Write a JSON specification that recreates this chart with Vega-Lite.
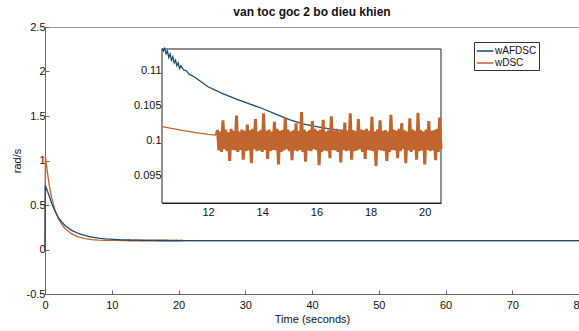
{
  "$schema": "https://vega.github.io/schema/vega-lite/v6.json",
  "autosize": {"type": "none"},
  "padding": {"left": 45, "top": 27, "right": 0, "bottom": 37},
  "width": 534,
  "height": 267,
  "background": "white",
  "config": {"font": "Liberation Sans", "view": {"stroke": "#999", "strokeWidth": 1}},
  "title": {"text": "van toc goc 2 bo dieu khien", "fontSize": 12, "fontWeight": "bold", "offset": 2, "anchor": "middle", "color": "#111"},
  "datasets": {
    "w": [
      {"t": 0, "w": 0, "s": "wDSC"},
      {"t": 0.05, "w": 1.05, "s": "wDSC"},
      {"t": 0.3, "w": 0.9, "s": "wDSC"},
      {"t": 0.6, "w": 0.74, "s": "wDSC"},
      {"t": 1, "w": 0.58, "s": "wDSC"},
      {"t": 1.5, "w": 0.44, "s": "wDSC"},
      {"t": 2, "w": 0.35, "s": "wDSC"},
      {"t": 2.5, "w": 0.285, "s": "wDSC"},
      {"t": 3, "w": 0.235, "s": "wDSC"},
      {"t": 4, "w": 0.175, "s": "wDSC"},
      {"t": 5, "w": 0.142, "s": "wDSC"},
      {"t": 6, "w": 0.123, "s": "wDSC"},
      {"t": 7, "w": 0.112, "s": "wDSC"},
      {"t": 8, "w": 0.106, "s": "wDSC"},
      {"t": 9, "w": 0.1035, "s": "wDSC"},
      {"t": 10, "w": 0.1022, "s": "wDSC"},
      {"t": 10.3, "w": 0.1019, "s": "wDSC"},
      {"t": 11, "w": 0.1014, "s": "wDSC"},
      {"t": 11.5, "w": 0.1011, "s": "wDSC"},
      {"t": 12, "w": 0.1008, "s": "wDSC"},
      {"t": 12.3, "w": 0.1007, "s": "wDSC"},
      {"t": 12.35, "w": 0.1014, "s": "wDSC"},
      {"t": 12.40, "w": 0.0985, "s": "wDSC"},
      {"t": 12.45, "w": 0.1012, "s": "wDSC"},
      {"t": 12.50, "w": 0.0983, "s": "wDSC"},
      {"t": 12.55, "w": 0.1028, "s": "wDSC"},
      {"t": 12.60, "w": 0.0987, "s": "wDSC"},
      {"t": 12.65, "w": 0.1015, "s": "wDSC"},
      {"t": 12.70, "w": 0.0984, "s": "wDSC"},
      {"t": 12.75, "w": 0.1011, "s": "wDSC"},
      {"t": 12.80, "w": 0.0970, "s": "wDSC"},
      {"t": 12.85, "w": 0.1016, "s": "wDSC"},
      {"t": 12.90, "w": 0.0986, "s": "wDSC"},
      {"t": 12.95, "w": 0.1013, "s": "wDSC"},
      {"t": 13.00, "w": 0.0985, "s": "wDSC"},
      {"t": 13.05, "w": 0.1035, "s": "wDSC"},
      {"t": 13.10, "w": 0.0983, "s": "wDSC"},
      {"t": 13.15, "w": 0.1012, "s": "wDSC"},
      {"t": 13.20, "w": 0.0986, "s": "wDSC"},
      {"t": 13.25, "w": 0.1015, "s": "wDSC"},
      {"t": 13.30, "w": 0.0972, "s": "wDSC"},
      {"t": 13.35, "w": 0.1013, "s": "wDSC"},
      {"t": 13.40, "w": 0.0984, "s": "wDSC"},
      {"t": 13.45, "w": 0.1022, "s": "wDSC"},
      {"t": 13.50, "w": 0.0985, "s": "wDSC"},
      {"t": 13.55, "w": 0.1014, "s": "wDSC"},
      {"t": 13.60, "w": 0.0967, "s": "wDSC"},
      {"t": 13.65, "w": 0.1016, "s": "wDSC"},
      {"t": 13.70, "w": 0.0987, "s": "wDSC"},
      {"t": 13.75, "w": 0.1030, "s": "wDSC"},
      {"t": 13.80, "w": 0.0984, "s": "wDSC"},
      {"t": 13.85, "w": 0.1012, "s": "wDSC"},
      {"t": 13.90, "w": 0.0985, "s": "wDSC"},
      {"t": 13.95, "w": 0.1014, "s": "wDSC"},
      {"t": 14.00, "w": 0.0983, "s": "wDSC"},
      {"t": 14.05, "w": 0.1038, "s": "wDSC"},
      {"t": 14.10, "w": 0.0986, "s": "wDSC"},
      {"t": 14.15, "w": 0.1013, "s": "wDSC"},
      {"t": 14.20, "w": 0.0973, "s": "wDSC"},
      {"t": 14.25, "w": 0.1015, "s": "wDSC"},
      {"t": 14.30, "w": 0.0984, "s": "wDSC"},
      {"t": 14.35, "w": 0.1012, "s": "wDSC"},
      {"t": 14.40, "w": 0.0986, "s": "wDSC"},
      {"t": 14.45, "w": 0.1026, "s": "wDSC"},
      {"t": 14.50, "w": 0.0985, "s": "wDSC"},
      {"t": 14.55, "w": 0.1016, "s": "wDSC"},
      {"t": 14.60, "w": 0.0965, "s": "wDSC"},
      {"t": 14.65, "w": 0.1013, "s": "wDSC"},
      {"t": 14.70, "w": 0.0983, "s": "wDSC"},
      {"t": 14.75, "w": 0.1014, "s": "wDSC"},
      {"t": 14.80, "w": 0.0985, "s": "wDSC"},
      {"t": 14.85, "w": 0.1032, "s": "wDSC"},
      {"t": 14.90, "w": 0.0987, "s": "wDSC"},
      {"t": 14.95, "w": 0.1015, "s": "wDSC"},
      {"t": 15.00, "w": 0.0984, "s": "wDSC"},
      {"t": 15.05, "w": 0.1012, "s": "wDSC"},
      {"t": 15.10, "w": 0.0971, "s": "wDSC"},
      {"t": 15.15, "w": 0.1014, "s": "wDSC"},
      {"t": 15.20, "w": 0.0985, "s": "wDSC"},
      {"t": 15.25, "w": 0.1024, "s": "wDSC"},
      {"t": 15.30, "w": 0.0984, "s": "wDSC"},
      {"t": 15.35, "w": 0.1013, "s": "wDSC"},
      {"t": 15.40, "w": 0.0986, "s": "wDSC"},
      {"t": 15.45, "w": 0.1040, "s": "wDSC"},
      {"t": 15.50, "w": 0.0983, "s": "wDSC"},
      {"t": 15.55, "w": 0.1015, "s": "wDSC"},
      {"t": 15.60, "w": 0.0969, "s": "wDSC"},
      {"t": 15.65, "w": 0.1012, "s": "wDSC"},
      {"t": 15.70, "w": 0.0985, "s": "wDSC"},
      {"t": 15.75, "w": 0.1014, "s": "wDSC"},
      {"t": 15.80, "w": 0.0984, "s": "wDSC"},
      {"t": 15.85, "w": 0.1027, "s": "wDSC"},
      {"t": 15.90, "w": 0.0987, "s": "wDSC"},
      {"t": 15.95, "w": 0.1016, "s": "wDSC"},
      {"t": 16.00, "w": 0.0986, "s": "wDSC"},
      {"t": 16.05, "w": 0.1013, "s": "wDSC"},
      {"t": 16.10, "w": 0.0964, "s": "wDSC"},
      {"t": 16.15, "w": 0.1015, "s": "wDSC"},
      {"t": 16.20, "w": 0.0983, "s": "wDSC"},
      {"t": 16.25, "w": 0.1029, "s": "wDSC"},
      {"t": 16.30, "w": 0.0985, "s": "wDSC"},
      {"t": 16.35, "w": 0.1012, "s": "wDSC"},
      {"t": 16.40, "w": 0.0984, "s": "wDSC"},
      {"t": 16.45, "w": 0.1014, "s": "wDSC"},
      {"t": 16.50, "w": 0.0974, "s": "wDSC"},
      {"t": 16.55, "w": 0.1034, "s": "wDSC"},
      {"t": 16.60, "w": 0.0986, "s": "wDSC"},
      {"t": 16.65, "w": 0.1013, "s": "wDSC"},
      {"t": 16.70, "w": 0.0985, "s": "wDSC"},
      {"t": 16.75, "w": 0.1016, "s": "wDSC"},
      {"t": 16.80, "w": 0.0983, "s": "wDSC"},
      {"t": 16.85, "w": 0.1012, "s": "wDSC"},
      {"t": 16.90, "w": 0.0968, "s": "wDSC"},
      {"t": 16.95, "w": 0.1015, "s": "wDSC"},
      {"t": 17.00, "w": 0.0986, "s": "wDSC"},
      {"t": 17.05, "w": 0.1025, "s": "wDSC"},
      {"t": 17.10, "w": 0.0984, "s": "wDSC"},
      {"t": 17.15, "w": 0.1013, "s": "wDSC"},
      {"t": 17.20, "w": 0.0985, "s": "wDSC"},
      {"t": 17.25, "w": 0.1038, "s": "wDSC"},
      {"t": 17.30, "w": 0.0972, "s": "wDSC"},
      {"t": 17.35, "w": 0.1014, "s": "wDSC"},
      {"t": 17.40, "w": 0.0984, "s": "wDSC"},
      {"t": 17.45, "w": 0.1012, "s": "wDSC"},
      {"t": 17.50, "w": 0.0985, "s": "wDSC"},
      {"t": 17.55, "w": 0.1030, "s": "wDSC"},
      {"t": 17.60, "w": 0.0987, "s": "wDSC"},
      {"t": 17.65, "w": 0.1015, "s": "wDSC"},
      {"t": 17.70, "w": 0.0983, "s": "wDSC"},
      {"t": 17.75, "w": 0.1014, "s": "wDSC"},
      {"t": 17.80, "w": 0.0973, "s": "wDSC"},
      {"t": 17.85, "w": 0.1016, "s": "wDSC"},
      {"t": 17.90, "w": 0.0986, "s": "wDSC"},
      {"t": 17.95, "w": 0.1013, "s": "wDSC"},
      {"t": 18.00, "w": 0.0985, "s": "wDSC"},
      {"t": 18.05, "w": 0.1033, "s": "wDSC"},
      {"t": 18.10, "w": 0.0984, "s": "wDSC"},
      {"t": 18.15, "w": 0.1012, "s": "wDSC"},
      {"t": 18.20, "w": 0.0963, "s": "wDSC"},
      {"t": 18.25, "w": 0.1015, "s": "wDSC"},
      {"t": 18.30, "w": 0.0986, "s": "wDSC"},
      {"t": 18.35, "w": 0.1028, "s": "wDSC"},
      {"t": 18.40, "w": 0.0985, "s": "wDSC"},
      {"t": 18.45, "w": 0.1013, "s": "wDSC"},
      {"t": 18.50, "w": 0.0984, "s": "wDSC"},
      {"t": 18.55, "w": 0.1014, "s": "wDSC"},
      {"t": 18.60, "w": 0.0970, "s": "wDSC"},
      {"t": 18.65, "w": 0.1012, "s": "wDSC"},
      {"t": 18.70, "w": 0.0983, "s": "wDSC"},
      {"t": 18.75, "w": 0.1036, "s": "wDSC"},
      {"t": 18.80, "w": 0.0986, "s": "wDSC"},
      {"t": 18.85, "w": 0.1015, "s": "wDSC"},
      {"t": 18.90, "w": 0.0985, "s": "wDSC"},
      {"t": 18.95, "w": 0.1013, "s": "wDSC"},
      {"t": 19.00, "w": 0.0974, "s": "wDSC"},
      {"t": 19.05, "w": 0.1016, "s": "wDSC"},
      {"t": 19.10, "w": 0.0984, "s": "wDSC"},
      {"t": 19.15, "w": 0.1024, "s": "wDSC"},
      {"t": 19.20, "w": 0.0987, "s": "wDSC"},
      {"t": 19.25, "w": 0.1014, "s": "wDSC"},
      {"t": 19.30, "w": 0.0967, "s": "wDSC"},
      {"t": 19.35, "w": 0.1012, "s": "wDSC"},
      {"t": 19.40, "w": 0.0985, "s": "wDSC"},
      {"t": 19.45, "w": 0.1031, "s": "wDSC"},
      {"t": 19.50, "w": 0.0983, "s": "wDSC"},
      {"t": 19.55, "w": 0.1015, "s": "wDSC"},
      {"t": 19.60, "w": 0.0986, "s": "wDSC"},
      {"t": 19.65, "w": 0.1013, "s": "wDSC"},
      {"t": 19.70, "w": 0.0972, "s": "wDSC"},
      {"t": 19.75, "w": 0.1039, "s": "wDSC"},
      {"t": 19.80, "w": 0.0984, "s": "wDSC"},
      {"t": 19.85, "w": 0.1014, "s": "wDSC"},
      {"t": 19.90, "w": 0.0985, "s": "wDSC"},
      {"t": 19.95, "w": 0.1012, "s": "wDSC"},
      {"t": 20.00, "w": 0.0965, "s": "wDSC"},
      {"t": 20.05, "w": 0.1015, "s": "wDSC"},
      {"t": 20.10, "w": 0.0986, "s": "wDSC"},
      {"t": 20.15, "w": 0.1027, "s": "wDSC"},
      {"t": 20.20, "w": 0.0984, "s": "wDSC"},
      {"t": 20.25, "w": 0.1013, "s": "wDSC"},
      {"t": 20.30, "w": 0.0985, "s": "wDSC"},
      {"t": 20.35, "w": 0.1014, "s": "wDSC"},
      {"t": 20.40, "w": 0.0971, "s": "wDSC"},
      {"t": 20.45, "w": 0.1016, "s": "wDSC"},
      {"t": 20.50, "w": 0.0983, "s": "wDSC"},
      {"t": 20.55, "w": 0.1032, "s": "wDSC"},
      {"t": 20.60, "w": 0.0987, "s": "wDSC"},
      {"t": 25, "w": 0.1, "s": "wDSC"},
      {"t": 80, "w": 0.1, "s": "wDSC"},
      {"t": 0, "w": 0, "s": "wAFDSC"},
      {"t": 0.05, "w": 0.72, "s": "wAFDSC"},
      {"t": 0.5, "w": 0.63, "s": "wAFDSC"},
      {"t": 1, "w": 0.52, "s": "wAFDSC"},
      {"t": 1.5, "w": 0.43, "s": "wAFDSC"},
      {"t": 2, "w": 0.36, "s": "wAFDSC"},
      {"t": 2.5, "w": 0.31, "s": "wAFDSC"},
      {"t": 3, "w": 0.27, "s": "wAFDSC"},
      {"t": 4, "w": 0.215, "s": "wAFDSC"},
      {"t": 5, "w": 0.18, "s": "wAFDSC"},
      {"t": 6, "w": 0.155, "s": "wAFDSC"},
      {"t": 7, "w": 0.138, "s": "wAFDSC"},
      {"t": 8, "w": 0.127, "s": "wAFDSC"},
      {"t": 9, "w": 0.12, "s": "wAFDSC"},
      {"t": 10, "w": 0.1155, "s": "wAFDSC"},
      {"t": 10.3, "w": 0.1131, "s": "wAFDSC"},
      {"t": 10.35, "w": 0.1127, "s": "wAFDSC"},
      {"t": 10.4, "w": 0.1131, "s": "wAFDSC"},
      {"t": 10.45, "w": 0.1123, "s": "wAFDSC"},
      {"t": 10.5, "w": 0.1127, "s": "wAFDSC"},
      {"t": 10.55, "w": 0.1118, "s": "wAFDSC"},
      {"t": 10.6, "w": 0.1123, "s": "wAFDSC"},
      {"t": 10.65, "w": 0.1114, "s": "wAFDSC"},
      {"t": 10.7, "w": 0.1119, "s": "wAFDSC"},
      {"t": 10.75, "w": 0.111, "s": "wAFDSC"},
      {"t": 10.8, "w": 0.1114, "s": "wAFDSC"},
      {"t": 10.85, "w": 0.1106, "s": "wAFDSC"},
      {"t": 10.9, "w": 0.111, "s": "wAFDSC"},
      {"t": 10.95, "w": 0.1102, "s": "wAFDSC"},
      {"t": 11, "w": 0.1106, "s": "wAFDSC"},
      {"t": 11.1, "w": 0.11, "s": "wAFDSC"},
      {"t": 11.2, "w": 0.1099, "s": "wAFDSC"},
      {"t": 11.3, "w": 0.1094, "s": "wAFDSC"},
      {"t": 11.5, "w": 0.109, "s": "wAFDSC"},
      {"t": 12, "w": 0.1076, "s": "wAFDSC"},
      {"t": 12.5, "w": 0.1067, "s": "wAFDSC"},
      {"t": 13, "w": 0.1059, "s": "wAFDSC"},
      {"t": 13.5, "w": 0.1052, "s": "wAFDSC"},
      {"t": 14, "w": 0.1045, "s": "wAFDSC"},
      {"t": 14.5, "w": 0.1037, "s": "wAFDSC"},
      {"t": 15, "w": 0.1029, "s": "wAFDSC"},
      {"t": 15.5, "w": 0.1023, "s": "wAFDSC"},
      {"t": 16, "w": 0.1019, "s": "wAFDSC"},
      {"t": 16.5, "w": 0.1016, "s": "wAFDSC"},
      {"t": 17, "w": 0.1013, "s": "wAFDSC"},
      {"t": 18, "w": 0.1009, "s": "wAFDSC"},
      {"t": 19, "w": 0.1007, "s": "wAFDSC"},
      {"t": 20, "w": 0.1005, "s": "wAFDSC"},
      {"t": 20.6, "w": 0.1005, "s": "wAFDSC"},
      {"t": 30, "w": 0.1002, "s": "wAFDSC"},
      {"t": 80, "w": 0.1, "s": "wAFDSC"}
    ],
    "one": [{"k": 1}]
  },
  "data": {"name": "w"},
  "layer": [
    {
      "mark": {"type": "line", "strokeWidth": 1.3},
      "encoding": {
        "x": {"field": "t", "type": "quantitative",
          "scale": {"domain": [0, 80], "nice": false, "zero": false},
          "axis": {"values": [0, 10, 20, 30, 40, 50, 60, 70, 80], "orient": "bottom", "tickSize": -4, "labelPadding": 9, "labelFontSize": 11, "labelColor": "#111", "domainColor": "#666", "tickColor": "#666", "grid": false, "labelFlush": false, "title": "Time (seconds)", "titleFontSize": 11, "titleFontWeight": "normal", "titleColor": "#111", "titlePadding": 3}},
        "y": {"field": "w", "type": "quantitative",
          "scale": {"domain": [-0.5, 2.5], "nice": false, "zero": false},
          "axis": {"values": [-0.5, 0, 0.5, 1, 1.5, 2, 2.5], "orient": "left", "labelExpr": "'' + datum.value", "tickSize": -4, "labelPadding": 4, "labelFontSize": 11, "labelColor": "#111", "domainColor": "#666", "tickColor": "#666", "grid": false, "labelFlush": false, "title": "rad/s", "titleFontSize": 11, "titleFontWeight": "normal", "titleColor": "#111", "titlePadding": 4}},
        "color": {"field": "s", "type": "nominal",
          "scale": {"domain": ["wAFDSC", "wDSC"], "range": ["#1b4a72", "#c0652d"]},
          "legend": {"orient": "none", "legendX": 429, "legendY": 15, "title": null, "symbolType": "M-1,0H1.7", "symbolStrokeWidth": 1.5, "symbolSize": 150, "labelFontSize": 10, "labelColor": "#111", "labelOffset": 5, "rowPadding": 0, "padding": 2, "strokeColor": "#333", "fillColor": "white"}}
      }
    },
    {
      "layer": [
        {
          "data": {"name": "one"},
          "mark": {"type": "rect", "fill": "white", "stroke": "#222", "strokeWidth": 1},
          "encoding": {
            "x": {"datum": 10.3, "type": "quantitative",
              "scale": {"domain": [10.3, 20.6], "range": [117, 396], "nice": false, "zero": false},
              "axis": {"values": [12, 14, 16, 18, 20], "orient": "bottom", "offset": -91, "tickSize": -3, "labelPadding": 6, "labelFontSize": 11, "labelColor": "#111", "domainColor": "#222", "tickColor": "#222", "grid": false, "labelFlush": false, "title": null}},
            "x2": {"datum": 20.6},
            "y": {"datum": 0.091, "type": "quantitative",
              "scale": {"domain": [0.091, 0.113], "range": [176, 22], "nice": false, "zero": false},
              "axis": {"values": [0.095, 0.1, 0.105, 0.11], "format": "~g", "orient": "left", "offset": -117, "tickSize": -3, "labelPadding": 4, "labelFontSize": 11, "labelColor": "#111", "domainColor": "#222", "tickColor": "#222", "grid": false, "labelFlush": false, "title": null}},
            "y2": {"datum": 0.113}
          }
        },
        {
          "transform": [{"filter": "datum.s == 'wAFDSC' && datum.t >= 10.3 && datum.t <= 20.6"}],
          "mark": {"type": "line", "strokeWidth": 1.3, "color": "#1b4a72"},
          "encoding": {
            "x": {"field": "t", "type": "quantitative",
              "scale": {"domain": [10.3, 20.6], "range": [117, 396], "nice": false, "zero": false},
              "axis": {"values": [12, 14, 16, 18, 20], "orient": "bottom", "offset": -91, "tickSize": -3, "labelPadding": 6, "labelFontSize": 11, "labelColor": "#111", "domainColor": "#222", "tickColor": "#222", "grid": false, "labelFlush": false, "title": null}},
            "y": {"field": "w", "type": "quantitative",
              "scale": {"domain": [0.091, 0.113], "range": [176, 22], "nice": false, "zero": false},
              "axis": {"values": [0.095, 0.1, 0.105, 0.11], "format": "~g", "orient": "left", "offset": -117, "tickSize": -3, "labelPadding": 4, "labelFontSize": 11, "labelColor": "#111", "domainColor": "#222", "tickColor": "#222", "grid": false, "labelFlush": false, "title": null}}
          }
        },
        {
          "transform": [{"filter": "datum.s == 'wDSC' && datum.t >= 10.3 && datum.t <= 12.3"}],
          "mark": {"type": "line", "strokeWidth": 1.3, "color": "#c0652d"},
          "encoding": {
            "x": {"field": "t", "type": "quantitative",
              "scale": {"domain": [10.3, 20.6], "range": [117, 396], "nice": false, "zero": false},
              "axis": {"values": [12, 14, 16, 18, 20], "orient": "bottom", "offset": -91, "tickSize": -3, "labelPadding": 6, "labelFontSize": 11, "labelColor": "#111", "domainColor": "#222", "tickColor": "#222", "grid": false, "labelFlush": false, "title": null}},
            "y": {"field": "w", "type": "quantitative",
              "scale": {"domain": [0.091, 0.113], "range": [176, 22], "nice": false, "zero": false},
              "axis": {"values": [0.095, 0.1, 0.105, 0.11], "format": "~g", "orient": "left", "offset": -117, "tickSize": -3, "labelPadding": 4, "labelFontSize": 11, "labelColor": "#111", "domainColor": "#222", "tickColor": "#222", "grid": false, "labelFlush": false, "title": null}}
          }
        },
        {
          "transform": [{"filter": "datum.s == 'wDSC' && datum.t >= 12.3 && datum.t <= 20.6"}],
          "mark": {"type": "line", "strokeWidth": 3, "color": "#c0652d"},
          "encoding": {
            "x": {"field": "t", "type": "quantitative",
              "scale": {"domain": [10.3, 20.6], "range": [117, 396], "nice": false, "zero": false},
              "axis": {"values": [12, 14, 16, 18, 20], "orient": "bottom", "offset": -91, "tickSize": -3, "labelPadding": 6, "labelFontSize": 11, "labelColor": "#111", "domainColor": "#222", "tickColor": "#222", "grid": false, "labelFlush": false, "title": null}},
            "y": {"field": "w", "type": "quantitative",
              "scale": {"domain": [0.091, 0.113], "range": [176, 22], "nice": false, "zero": false},
              "axis": {"values": [0.095, 0.1, 0.105, 0.11], "format": "~g", "orient": "left", "offset": -117, "tickSize": -3, "labelPadding": 4, "labelFontSize": 11, "labelColor": "#111", "domainColor": "#222", "tickColor": "#222", "grid": false, "labelFlush": false, "title": null}}
          }
        }
      ]
    }
  ],
  "resolve": {"scale": {"x": "independent", "y": "independent"}, "axis": {"x": "independent", "y": "independent"}}
}
